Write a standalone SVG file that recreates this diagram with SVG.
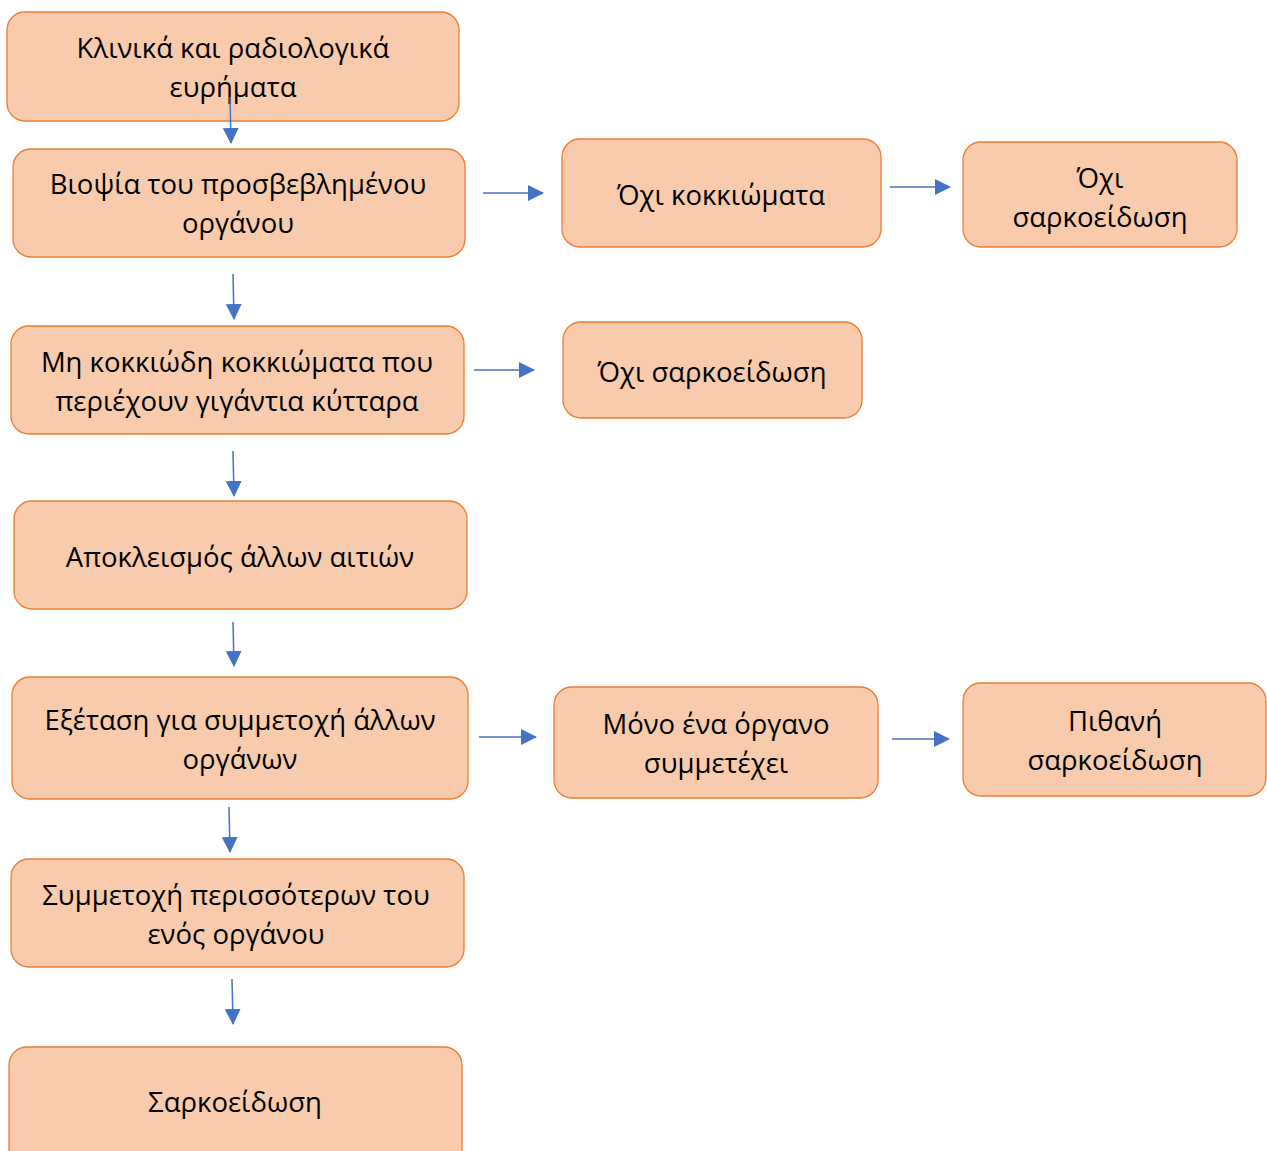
<svg xmlns="http://www.w3.org/2000/svg" width="1267" height="1151" viewBox="0 0 1267 1151">
<defs>
<style>
.box{fill:#F8CBAD;stroke:#ED7D31;stroke-width:1.3}
.t{font-family:"Open Sans","Noto Sans","DejaVu Sans",sans-serif;font-size:27.5px;fill:#000;text-anchor:middle}
.c{stroke:#4472C4;stroke-width:1.5;fill:none;marker-end:url(#ah)}
</style>
<marker id="ah" markerUnits="userSpaceOnUse" markerWidth="16" markerHeight="16" viewBox="0 0 16 16" refX="15" refY="8" orient="auto">
<path d="M0,0 L16,8 L0,16 Z" fill="#4472C4"/>
</marker>
</defs>
<rect width="1267" height="1151" fill="#fff"/>
<g id="n1"><rect class="box" x="7" y="12" width="452" height="109" rx="18"/><text class="t" x="233" y="58">Κλινικά και ραδιολογικά</text><text class="t" x="233" y="97">ευρήματα</text></g>
<g id="n2"><rect class="box" x="13" y="149" width="452" height="108" rx="18"/><text class="t" x="238" y="194">Βιοψία του προσβεβλημένου</text><text class="t" x="238" y="233">οργάνου</text></g>
<g id="n3"><rect class="box" x="562" y="139" width="319" height="108" rx="18"/><text class="t" x="721" y="205">Όχι κοκκιώματα</text></g>
<g id="n4"><rect class="box" x="963" y="142" width="274" height="105" rx="18"/><text class="t" x="1100" y="188">Όχι</text><text class="t" x="1100" y="227">σαρκοείδωση</text></g>
<g id="n5"><rect class="box" x="11" y="326" width="453" height="108" rx="18"/><text class="t" x="237" y="372">Μη κοκκιώδη κοκκιώματα που</text><text class="t" x="237" y="411">περιέχουν γιγάντια κύτταρα</text></g>
<g id="n6"><rect class="box" x="563" y="322" width="299" height="96" rx="18"/><text class="t" x="712" y="382">Όχι σαρκοείδωση</text></g>
<g id="n7"><rect class="box" x="14" y="501" width="453" height="108" rx="18"/><text class="t" x="240" y="567">Αποκλεισμός άλλων αιτιών</text></g>
<g id="n8"><rect class="box" x="12" y="677" width="456" height="122" rx="18"/><text class="t" x="240" y="730">Εξέταση για συμμετοχή άλλων</text><text class="t" x="240" y="769">οργάνων</text></g>
<g id="n9"><rect class="box" x="554" y="687" width="324" height="111" rx="18"/><text class="t" x="716" y="734">Μόνο ένα όργανο</text><text class="t" x="716" y="773">συμμετέχει</text></g>
<g id="n10"><rect class="box" x="963" y="683" width="303" height="113" rx="18"/><text class="t" x="1115" y="731">Πιθανή</text><text class="t" x="1115" y="770">σαρκοείδωση</text></g>
<g id="n11"><rect class="box" x="11" y="859" width="453" height="108" rx="18"/><text class="t" x="236" y="905">Συμμετοχή περισσότερων του</text><text class="t" x="236" y="944">ενός οργάνου</text></g>
<g id="n12"><rect class="box" x="9" y="1047" width="453" height="120" rx="18"/><text class="t" x="235" y="1112">Σαρκοείδωση</text></g>
<g id="connectors">
<path class="c" d="M230,97 L231,143"/>
<path class="c" d="M483,193 L543,193"/>
<path class="c" d="M890,187 L950,187"/>
<path class="c" d="M233,274 L234,319"/>
<path class="c" d="M474,370 L534,370"/>
<path class="c" d="M233,451 L234,496"/>
<path class="c" d="M233,622 L234,666"/>
<path class="c" d="M479,737 L536,737"/>
<path class="c" d="M892,739 L949,739"/>
<path class="c" d="M229,807 L230,852"/>
<path class="c" d="M232,979 L233,1024"/>
</g>
</svg>
